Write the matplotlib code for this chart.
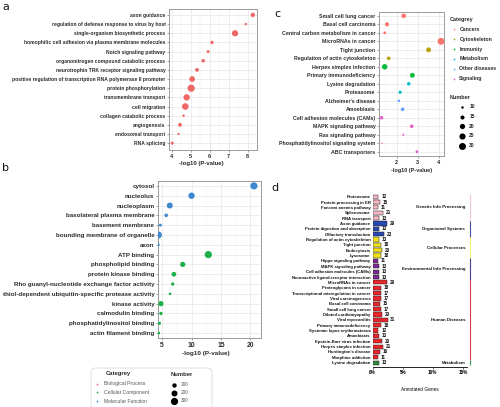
import matplotlib.pyplot as plt
from matplotlib.patches import FancyBboxPatch
from matplotlib.ticker import MultipleLocator
import numpy as np

W, H = 500, 407
plt.rcParams['font.family'] = ['Liberation Sans', 'DejaVu Sans']
plt.rcParams['font.weight'] = 'bold'
TXT = '#2b2b2b'

# ---- panel a : GO biological process ----
a_terms = ['axon guidance', 'regulation of defense response to virus by host',
           'single-organism biosynthetic process',
           'homophilic cell adhesion via plasma membrane molecules',
           'Notch signaling pathway', 'organonitrogen compound catabolic process',
           'neurotrophin TRK receptor signaling pathway',
           'positive regulation of transcription RNA polymerase II promoter',
           'protein phosphorylation', 'transmembrane transport', 'cell migration',
           'collagen catabolic process', 'angiogenesis', 'endosomal transport',
           'RNA splicing']
a_logp = [8.27, 7.9, 7.33, 6.12, 5.91, 5.65, 5.33, 5.07, 5.02, 4.78, 4.71, 4.62, 4.43, 4.35, 4.02]
a_num = [100, 20, 220, 50, 35, 60, 70, 180, 300, 230, 250, 20, 70, 12, 40]

# ---- panel b : GO cellular component / molecular function ----
b_terms = ['cytosol', 'nucleolus', 'nucleoplasm', 'basolateral plasma membrane',
           'basement membrane', 'bounding membrane of organelle', 'axon',
           'ATP binding', 'phospholipid binding', 'protein kinase binding',
           'Rho guanyl-nucleotide exchange factor activity',
           'thiol-dependent ubiquitin-specific protease activity',
           'kinase activity', 'calmodulin binding', 'phosphatidylinositol binding',
           'actin filament binding']
b_logp = [20.6, 10.0, 6.3, 5.7, 4.7, 4.4, 4.3, 12.85, 8.5, 7.0, 6.8, 6.35, 4.8, 4.8, 4.55, 4.4]
b_num = [300, 230, 200, 60, 35, 260, 50, 300, 150, 120, 50, 25, 150, 50, 45, 40]
b_group = ['CC'] * 7 + ['MF'] * 9

go_colors = {'BP': '#ef6767', 'CC': '#3f88d0', 'MF': '#1fb04c'}
go_leg_names = ['Biological Process', 'Cellular Component', 'Molecular Function']
go_leg_colors = ['#ef6767', '#1fb04c', '#3f88d0']
go_leg_nums = [100, 200, 300]

# ---- panel c : KEGG ----
c_terms = ['Small cell lung cancer', 'Basal cell carcinoma',
           'Central carbon metabolism in cancer', 'MicroRNAs in cancer',
           'Tight junction', 'Regulation of actin cytoskeleton',
           'Herpes simplex infection', 'Primary immunodeficiency',
           'Lysine degradation', 'Proteasome', "Alzheimer's disease", 'Amoebiasis',
           'Cell adhesion molecules (CAMs)', 'MAPK signaling pathway',
           'Ras signaling pathway', 'Phosphatidylinositol signaling system',
           'ABC transporters']
c_logp = [2.33, 1.54, 1.43, 4.1, 3.51, 1.62, 1.43, 2.74, 2.57, 2.16, 2.1, 2.28,
          1.28, 2.71, 2.31, 1.3, 2.96]
c_num = [17, 15, 11, 29, 18, 13, 21, 18, 13, 12, 10, 13, 13, 13, 9, 8, 11]
c_cat = ['Cancers'] * 4 + ['Cytoskeleton'] * 2 + ['Immunity'] * 2 + \
        ['Metabolism'] * 2 + ['Other diseases'] * 2 + ['Signaling'] * 5
c_cats = ['Cancers', 'Cytoskeleton', 'Immunity', 'Metabolism', 'Other diseases', 'Signaling']
c_colors = ['#f8766d', '#b79f00', '#00ba38', '#00bfc4', '#619cff', '#e45fc8']
c_leg_nums = [10, 15, 20, 25, 30]

# ---- panel d : KEGG classification ----
d_terms = ['Proteasome', 'Protein processing in ER', 'Fanconi anemia pathway',
           'Spliceosome', 'RNA transport', 'Axon guidance',
           'Protein digestion and absorption', 'Olfactory transduction',
           'Regulation of actin cytoskeleton', 'Tight junction', 'Endocytosis',
           'Lysosome', 'Hippo signaling pathway', 'MAPK signaling pathway',
           'Cell adhesion molecules (CAMs)', 'Neuroactive ligand-receptor interaction',
           'MicroRNAs in cancer', 'Proteoglycans in cancer',
           'Transcriptional misregulation in cancer', 'Viral carcinogenesis',
           'Basal cell carcinoma', 'Small cell lung cancer', 'Dilated cardiomyopathy',
           'Viral myocarditis', 'Primary immunodeficiency',
           'Systemic lupus erythematosus', 'Amoebiasis', 'Epstein-Barr virus infection',
           'Herpes simplex infection', "Huntington's disease", 'Morphine addiction',
           'Lysine degradation']
d_counts = [12, 15, 11, 21, 13, 29, 13, 23, 13, 18, 20, 18, 11, 13, 13, 13,
            29, 18, 17, 17, 15, 17, 20, 31, 18, 12, 13, 20, 21, 16, 11, 13]
d_total = 1250
d_groups = ['Genetic Info Processing', 'Organismal Systems', 'Cellular Processes',
            'Environmental Info Processing', 'Human Diseases', 'Metabolism']
d_group_sizes = [5, 3, 4, 4, 15, 1]
d_bar_colors = ['#f7b8c6', '#2a47b0', '#f2e21c', '#7a2c8c', '#e8262c', '#2e8b3a']
d_line_colors = ['#f3c9d6', '#3e4f9c', '#f6ef73', '#4a3f86', '#d83a4a', '#3a9a58']


def go_size(n):
    return 1.5 + np.asarray(n) * 0.085


def kegg_size(n):
    return 1 + (np.asarray(n) - 8) * 1.1


fig = plt.figure(figsize=(W / 100, H / 100), dpi=100)


def px_axes(l, t, r, b):
    return fig.add_axes([l / W, 1 - b / H, (r - l) / W, (b - t) / H])


def dot_style(ax, labels, fs_lab, fs_tick):
    ax.set_yticks(range(len(labels)))
    ax.set_yticklabels(labels, fontsize=fs_lab, color=TXT, fontweight='bold')
    ax.grid(True, which='major', color='#e6e6e6', lw=0.5)
    ax.grid(True, which='minor', axis='x', color='#f1f1f1', lw=0.35)
    ax.set_axisbelow(True)
    for s in ax.spines.values():
        s.set_color('#9a9a9a')
        s.set_linewidth(0.7)
    ax.tick_params(axis='both', which='major', length=1.6, width=0.4, color='#555555',
                   pad=1, labelsize=fs_tick, labelcolor=TXT)
    ax.tick_params(axis='y', labelsize=fs_lab)
    ax.tick_params(which='minor', length=0)


# panel a
ax_a = px_axes(169, 9, 257, 150)
ax_a.scatter(a_logp, range(len(a_terms)), s=go_size(a_num), color=go_colors['BP'],
             linewidths=0, zorder=3)
ax_a.set_xlim(3.85, 8.49)
ax_a.set_ylim(14.75, -0.65)
ax_a.set_xticks([4, 5, 6, 7, 8])
ax_a.xaxis.set_minor_locator(MultipleLocator(0.5))
dot_style(ax_a, a_terms, 3.6, 4.0)

# panel b
ax_b = px_axes(158, 181, 261, 338)
ax_b.scatter(b_logp, range(len(b_terms)), s=go_size(b_num),
             color=[go_colors[g] for g in b_group], linewidths=0, zorder=3)
ax_b.set_xlim(4.3, 21.8)
ax_b.set_ylim(15.5, -0.5)
ax_b.set_xticks([5, 10, 15, 20])
ax_b.xaxis.set_minor_locator(MultipleLocator(2.5))
dot_style(ax_b, b_terms, 4.5, 4.9)

# panel c
ax_c = px_axes(379, 12, 444, 156)
cmap = dict(zip(c_cats, c_colors))
ax_c.scatter(c_logp, range(len(c_terms)), s=kegg_size(c_num),
             color=[cmap[c] for c in c_cat], linewidths=0, zorder=3)
ax_c.set_xlim(1.16, 4.24)
ax_c.set_ylim(16.5, -0.45)
ax_c.set_xticks([2, 3, 4])
ax_c.xaxis.set_minor_locator(MultipleLocator(0.5))
dot_style(ax_c, c_terms, 3.75, 4.0)

# panel d
ax_d = px_axes(372.7, 194, 467, 366.7)
d_pct = np.array(d_counts) / d_total * 100
d_col = []
for col, n in zip(d_bar_colors, d_group_sizes):
    d_col += [col] * n
rows = np.arange(len(d_terms))
ax_d.barh(rows, d_pct, height=0.78, color=d_col, edgecolor='#222222', linewidth=0.35)
for y, p, n in zip(rows, d_pct, d_counts):
    ax_d.text(p + 0.45, y, str(n), fontsize=3.3, va='center', ha='left', color='#111111')
ax_d.set_xlim(0, 15.7)
ax_d.set_ylim(31.75, -0.5)
ax_d.set_yticks(rows)
ax_d.set_yticklabels(d_terms, fontsize=3.1, color='#111111')
ax_d.set_xticks([0, 5, 10, 15])
ax_d.set_xticklabels(['0%', '5%', '10%', '15%'], fontsize=3.3)
for s in ['top', 'right', 'left']:
    ax_d.spines[s].set_visible(False)
ax_d.spines['bottom'].set_linewidth(0.6)
ax_d.tick_params(axis='y', length=0, pad=1.5)
ax_d.tick_params(axis='x', length=1.2, width=0.4, pad=1)
ax_d.set_xlabel('Annotated Genes', fontsize=3.4, labelpad=9)
tr = ax_d.get_yaxis_transform()
start = 0
for name, n, lc in zip(d_groups, d_group_sizes, d_line_colors):
    y0, y1 = start - 0.5, start + n - 0.5
    ax_d.plot([1.032, 1.032], [y0, y1], color=lc, lw=0.8, transform=tr, clip_on=False,
              solid_capstyle='butt')
    ax_d.text(0.979, (y0 + y1) / 2, name, transform=tr, fontsize=3.2, ha='right',
              va='center', color='#111111')
    start += n

# overlay: panel letters, axis titles, legends
ov = fig.add_axes([0, 0, 1, 1])
ov.set_xlim(0, W)
ov.set_ylim(H, 0)
ov.axis('off')
ov.patch.set_alpha(0)

for lab, x, y in [('a', 2, 7), ('b', 2, 168), ('c', 274, 14), ('d', 271, 188)]:
    ov.text(x, y, lab, fontsize=8, fontweight='normal', va='center', ha='left',
            color='#111111', family='DejaVu Sans')

ov.text(201, 163.3, '-log10 (P-value)', fontsize=4.3, ha='center', va='center', color=TXT)
ov.text(205.7, 354, '-log10 (P-value)', fontsize=4.6, ha='center', va='center', color=TXT)
ov.text(411.7, 170.7, '-log10 (P-value)', fontsize=4.0, ha='center', va='center', color=TXT)

# GO legend box
box = FancyBboxPatch((91, 368), 121, 42, boxstyle='round,pad=0,rounding_size=5',
                     fc='white', ec='#d9d9d9', lw=0.6)
ov.add_patch(box)
ov.text(106, 374, 'Categrey', fontsize=4.2, ha='left', va='center', color=TXT)
for i, (nm, col) in enumerate(zip(go_leg_names, go_leg_colors)):
    y = 383.7 + i * 8.7
    ov.scatter([97], [y], s=1.5, color=col, linewidths=0)
    ov.text(104, y, nm, fontsize=3.6, ha='left', va='center', color='#555555',
            fontweight='normal')
ov.text(171, 374, 'Number', fontsize=4.2, ha='left', va='center', color=TXT)
for i, n in enumerate(go_leg_nums):
    y = 385 + i * 8
    ov.scatter([174.3], [y], s=go_size(n), color='black', linewidths=0)
    ov.text(181, y, str(n), fontsize=3.4, ha='left', va='center', color='#555555',
            fontweight='normal')

# KEGG legend
ov.text(450, 19, 'Categrey', fontsize=4.0, ha='left', va='center', color=TXT)
for i, (nm, col) in enumerate(zip(c_cats, c_colors)):
    y = 29.3 + i * 9.85
    ov.scatter([453.7], [y], s=1.5, color=col, linewidths=0)
    ov.text(459.3, y, nm, fontsize=3.7, ha='left', va='center', color=TXT)
ov.text(450, 97.3, 'Number', fontsize=4.0, ha='left', va='center', color=TXT)
for i, n in enumerate(c_leg_nums):
    y = 106.8 + i * 9.7
    ov.scatter([462], [y], s=kegg_size(n), color='black', linewidths=0)
    ov.text(469.3, y, str(n), fontsize=3.6, ha='left', va='center', color=TXT)

fig.savefig('out.png', dpi=100)
